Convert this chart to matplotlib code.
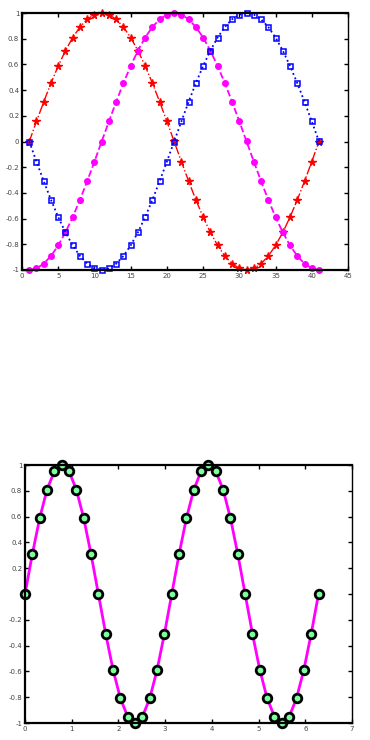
import numpy as np
import matplotlib
matplotlib.use("Agg")
import matplotlib.pyplot as plt

# Top panel data (index 1..41)
idx = list(range(1, 42))
ang = [ (i - 1) * np.pi / 20 for i in idx ]
y_red = [np.sin(a) for a in ang]
y_mag = [-np.cos(a) for a in ang]
y_blue = [-np.sin(a) for a in ang]

# Bottom panel data
t = [k * np.pi / 20 for k in range(41)]
y_bot = [np.sin(2 * v) for v in t]

top_xticks = [0, 5, 10, 15, 20, 25, 30, 35, 40, 45]
bot_xticks = [0, 1, 2, 3, 4, 5, 6, 7]
yticks = [-1, -0.8, -0.6, -0.4, -0.2, 0, 0.2, 0.4, 0.6, 0.8, 1]

def fmt(v):
    return '%g' % round(v, 2)

fig = plt.figure(figsize=(3.7, 7.4), dpi=100)

ax1 = fig.add_axes([22/370, 1 - 270/740, (348-22)/370, (270-13)/740])
ax1.plot(idx, y_red, '-.', color='red', marker='*', markersize=5.5, linewidth=1.0,
         clip_on=False)
ax1.plot(idx, y_mag, '--', color='magenta', marker='o', markersize=4, linewidth=1.3,
         clip_on=False)
ax1.plot(idx, y_blue, ':', color='blue', marker='s', markersize=3.6, linewidth=1.3,
         markerfacecolor='none', markeredgewidth=1.1, clip_on=False)
ax1.set_xlim(0, 45)
ax1.set_ylim(-1, 1)
ax1.set_xticks(top_xticks)
ax1.set_xticklabels([str(v) for v in top_xticks])
ax1.set_yticks(yticks)
ax1.set_yticklabels([fmt(v) for v in yticks])

ax2 = fig.add_axes([25/370, 1 - 723/740, (352-25)/370, (723-465)/740])
ax2.plot(t, y_bot, '-', color='magenta', linewidth=2.0, marker='o', markersize=6.2,
         markeredgecolor='black', markerfacecolor=(0.49, 1, 0.63), markeredgewidth=2.0,
         clip_on=False)
ax2.set_xlim(0, 7)
ax2.set_ylim(-1, 1)
ax2.set_xticks(bot_xticks)
ax2.set_xticklabels([str(v) for v in bot_xticks])
ax2.set_yticks(yticks)
ax2.set_yticklabels(['' if v == 0 else fmt(v) for v in yticks])

for ax in (ax1, ax2):
    ax.tick_params(direction='in', length=3, width=1.0, labelsize=5,
                   labelcolor='#444444', pad=2, top=True, right=True)
    for sp in ax.spines.values():
        sp.set_linewidth(1.0)
    ax.spines['left'].set_linewidth(1.6)
    ax.spines['bottom'].set_linewidth(1.6)
    ax.spines['top'].set_linewidth(1.6)

fig.savefig('out.png', dpi=100)
